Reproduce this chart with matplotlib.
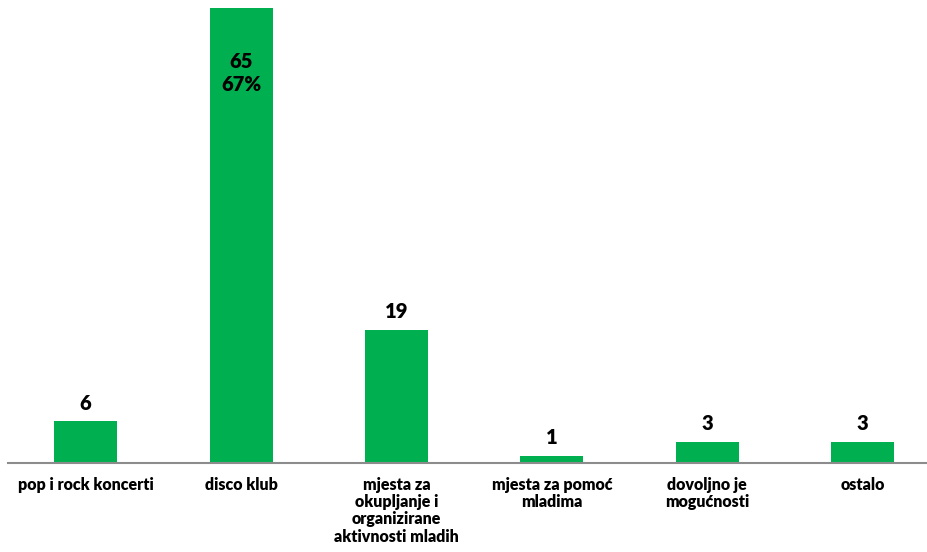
import matplotlib.pyplot as plt

CATS = [
    "pop i rock koncerti",
    "disco klub",
    "mjesta za\nokupljanje i\norganizirane\naktivnosti mladih",
    "mjesta za pomoć\nmladima",
    "dovoljno je\nmogućnosti",
    "ostalo",
]
VALUES = [6, 65, 19, 1, 3, 3]
PCT = {1: "67%"}

GREEN = "#00B050"

plt.rcParams["font.family"] = ["Lato", "DejaVu Sans"]

fig = plt.figure(figsize=(9.28, 5.52), dpi=100)
ax = fig.add_axes([8 / 928, 89 / 552, 920 / 928, 455 / 552])

xs = list(range(len(CATS)))
ax.bar(xs, VALUES, width=0.405, color=GREEN, zorder=2)

for i, v in enumerate(VALUES):
    if i in PCT:
        ax.annotate(f"{v}\n{PCT[i]}", xy=(i, v), xytext=(0, -65),
                    textcoords="offset pixels", ha="center", va="center",
                    fontsize=14.5, fontweight="heavy", linespacing=1.25)
    else:
        ax.annotate(str(v), xy=(i, v), xytext=(0, 18),
                    textcoords="offset pixels", ha="center", va="center",
                    fontsize=14.5, fontweight="heavy")

ax.set_xlim(-0.5, 5.42)
ax.set_ylim(0, 65)
ax.set_xticks(xs)
ax.set_xticklabels(CATS, fontsize=11.5, fontweight="heavy", linespacing=1.1,
                   va="top")
ax.tick_params(axis="x", length=0, pad=10)
ax.set_yticks([])
for side in ["top", "right", "left"]:
    ax.spines[side].set_visible(False)
ax.spines["bottom"].set_color("#8c8c8c")
ax.spines["bottom"].set_linewidth(1.5)

fig.savefig("out.png", dpi=100)
